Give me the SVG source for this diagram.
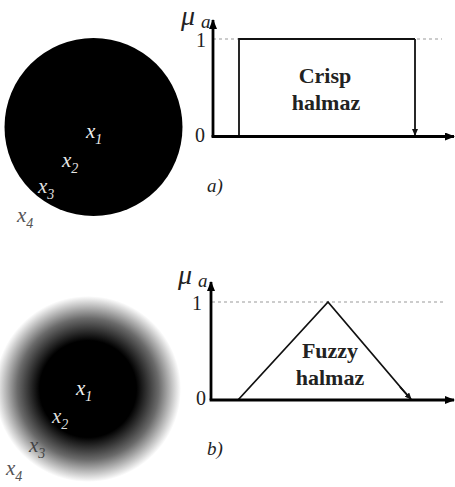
<svg xmlns="http://www.w3.org/2000/svg" width="455" height="487" viewBox="0 0 455 487">
<style>
text{font-family:'Liberation Serif','Times New Roman','DejaVu Serif',serif}
.x{font-style:italic;font-size:21px}
.s{font-size:14px}
.lbl{font-size:20px;fill:#222}
.mu{font-style:italic;font-size:28px;fill:#222}
.mua{font-style:italic;font-size:19px;fill:#222}
.t{font-weight:bold;font-size:22px;fill:#222;text-anchor:middle}
.cap{font-style:italic;font-size:19px;fill:#222}
.axis{stroke:#000;stroke-width:2.8;fill:none}
.curve{stroke:#111;stroke-width:1.8;fill:none}
.dash{stroke:#999;stroke-width:1;stroke-dasharray:3,3;fill:none}
</style>
<defs>
<marker id="ah" markerWidth="10" markerHeight="8" refX="9" refY="4" orient="auto" markerUnits="userSpaceOnUse">
<path d="M0,0 L10,4 L0,8 Z" fill="#000"/>
</marker>
<marker id="sh" markerWidth="7" markerHeight="6" refX="6" refY="3" orient="auto" markerUnits="userSpaceOnUse">
<path d="M0,0 L7,3 L0,6 Z" fill="#111"/>
</marker>
<radialGradient id="fz" cx="88" cy="389" r="93" gradientUnits="userSpaceOnUse">
<stop offset="0" stop-color="#000"/>
<stop offset="0.52" stop-color="#000"/>
<stop offset="0.76" stop-color="#6a6a6a"/>
<stop offset="1" stop-color="#fff"/>
</radialGradient>
</defs>
<rect width="455" height="487" fill="#fff"/>

<g id="crisp-set">
<circle cx="93.5" cy="127" r="89" fill="#000"/>
<text class="x" x="86" y="138" fill="#eee">x<tspan class="s" dy="6">1</tspan></text>
<text class="x" x="62" y="167" fill="#e6e6e6">x<tspan class="s" dy="6">2</tspan></text>
<text class="x" x="38" y="193" fill="#e0e0e0">x<tspan class="s" dy="6">3</tspan></text>
<text class="x" x="17" y="222" fill="#555">x<tspan class="s" dy="6">4</tspan></text>
</g>

<g id="fuzzy-set">
<circle cx="88" cy="389" r="93" fill="url(#fz)"/>
<text class="x" x="76" y="395" fill="#eee">x<tspan class="s" dy="6">1</tspan></text>
<text class="x" x="52" y="423" fill="#ddd">x<tspan class="s" dy="6">2</tspan></text>
<text class="x" x="29" y="452" fill="#444">x<tspan class="s" dy="6">3</tspan></text>
<text class="x" x="6" y="475" fill="#555">x<tspan class="s" dy="6">4</tspan></text>
</g>

<g id="crisp-chart">
<line class="dash" x1="213" y1="39" x2="442" y2="39"/>
<text class="mu" x="181" y="25">μ</text>
<text class="mua" x="201" y="28">a</text>
<text class="lbl" x="196" y="47">1</text>
<text class="lbl" x="195" y="142">0</text>
<polyline class="curve" points="239,136 239,39 415,39"/>
<line class="curve" x1="415" y1="39" x2="415" y2="135" marker-end="url(#sh)"/>
<text class="t" x="325" y="83">Crisp</text>
<text class="t" x="326" y="110">halmaz</text>
<text class="cap" x="207" y="192">a)</text>
</g>

<g id="fuzzy-chart">
<line class="dash" x1="212" y1="302" x2="443" y2="302"/>
<text class="mu" x="178" y="284">μ</text>
<text class="mua" x="198" y="287">a</text>
<text class="lbl" x="192" y="310">1</text>
<text class="lbl" x="196" y="405">0</text>
<polyline class="curve" points="238,400 328,302 408,396"/>
<line class="curve" x1="400" y1="387" x2="411" y2="399" marker-end="url(#sh)"/>
<text class="t" x="330" y="358">Fuzzy</text>
<text class="t" x="330" y="385">halmaz</text>
<text class="cap" x="207" y="455">b)</text>
</g>

<g id="connectors">
<line class="axis" x1="213" y1="137" x2="213" y2="20" marker-end="url(#ah)"/>
<line class="axis" x1="211.6" y1="136.5" x2="454" y2="136.5" marker-end="url(#ah)"/>
<line class="axis" x1="211" y1="400" x2="211" y2="282" marker-end="url(#ah)"/>
<line class="axis" x1="209.6" y1="400" x2="454" y2="400" marker-end="url(#ah)"/>
</g>
</svg>
